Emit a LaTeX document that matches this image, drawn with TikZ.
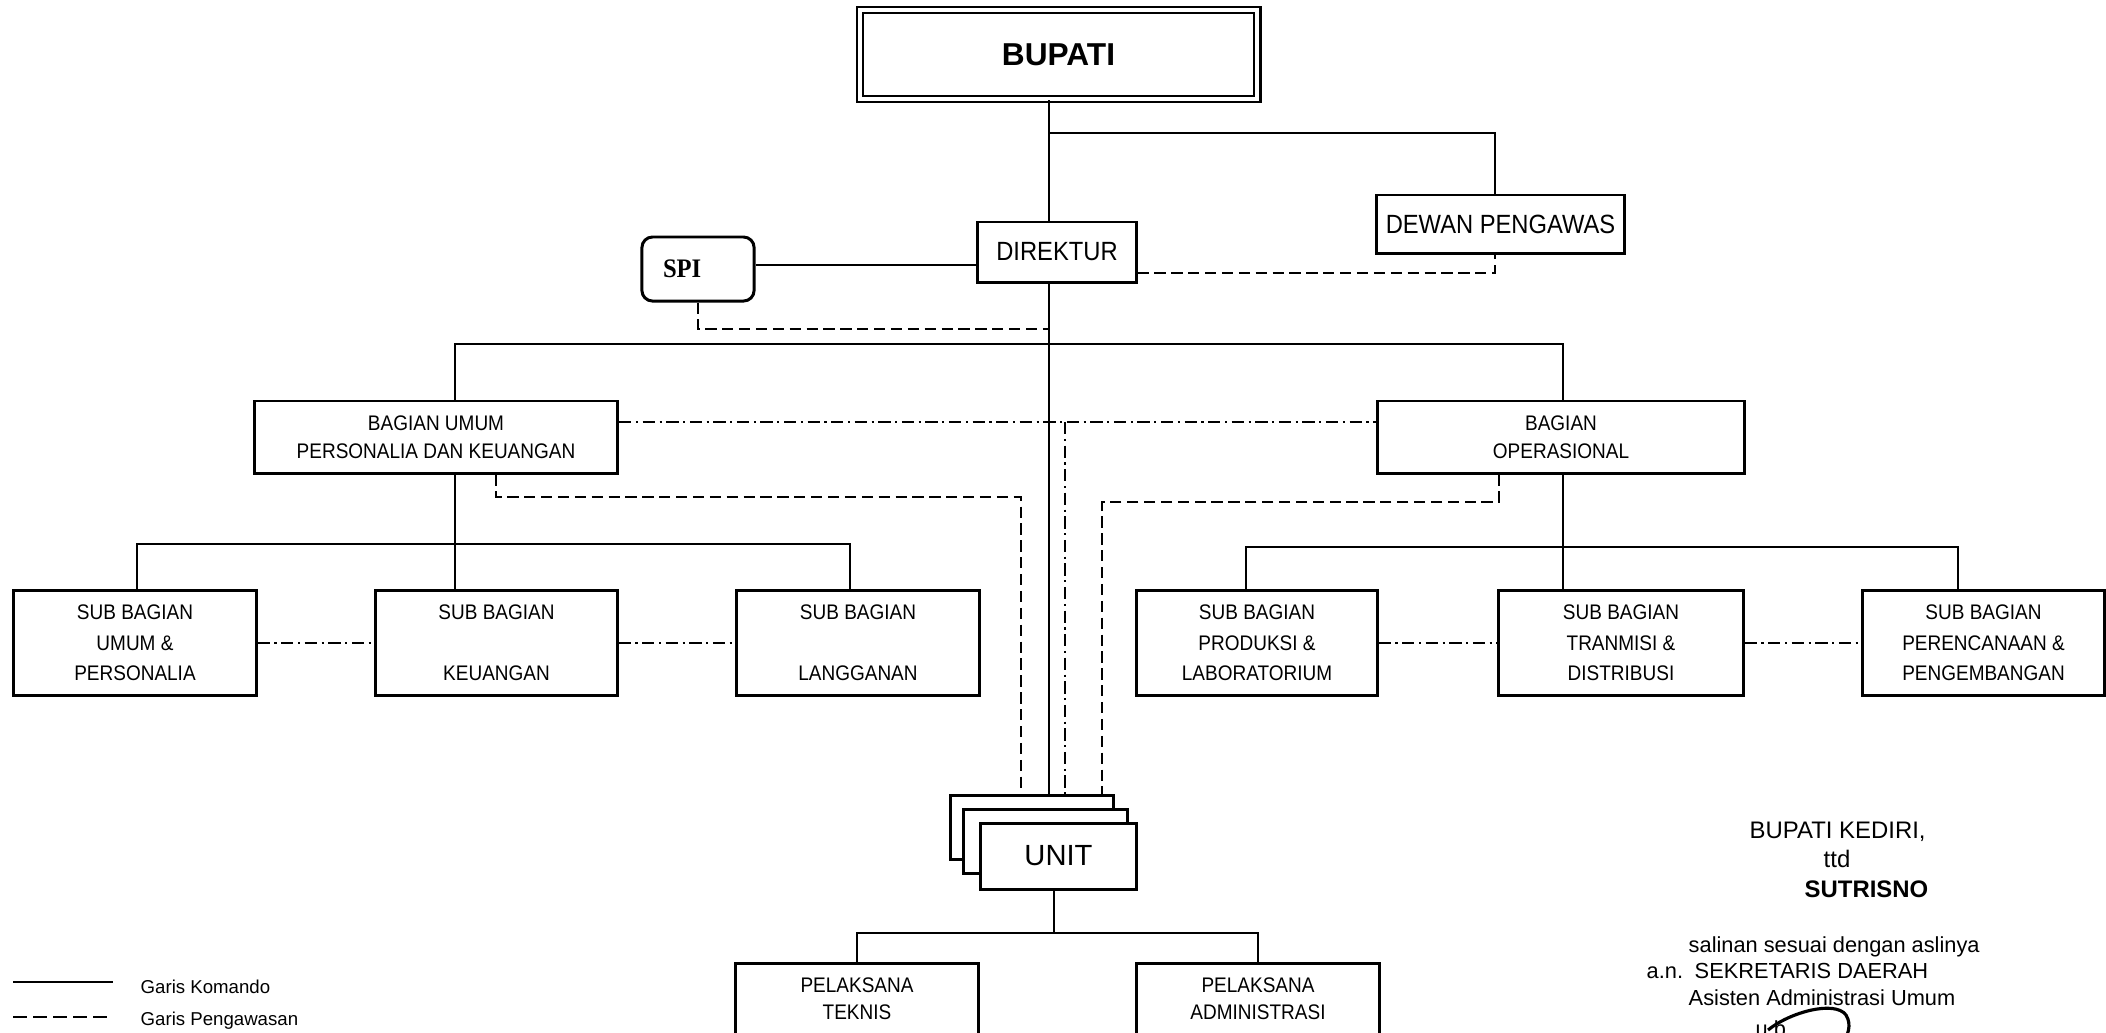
\documentclass[tikz,border=0pt]{standalone}
\usepackage{fontspec}
\setmainfont{Liberation Sans}
\newfontfamily\narrowfont[FakeStretch=0.9]{Liberation Sans}
\newfontfamily\spifont[FakeStretch=0.92]{Liberation Serif}
\usetikzlibrary{positioning}

\tikzset{
  cmd/.style={line width=0.65pt},
  spv/.style={line width=0.65pt, dash pattern=on 3.2pt off 1.6pt},
  crd/.style={line width=0.65pt, dash pattern=on 3.5pt off 1.3pt on 0.6pt off 1.3pt},
  box/.style={draw, line width=0.85pt, inner sep=0pt, align=center, fill=white,
    font=\narrowfont\fontsize{6}{8}\selectfont},
  subbox/.style={box, minimum width=2.42cm, minimum height=1.05cm,
    font=\narrowfont\fontsize{6}{8.7}\selectfont},
  unitbox/.style={box, minimum width=1.62cm, minimum height=0.64cm},
  sigtext/.style={anchor=base west, inner sep=0pt, font=\fontsize{6.2}{7}\selectfont},
  sighead/.style={sigtext, font=\fontsize{6.8}{8}\selectfont},
}

\begin{document}
\begin{tikzpicture}[x=0.01cm, y=-0.01cm]

  % Bounding box of the chart
  \useasboundingbox (0,0) rectangle (2106,1032) ;
  \clip (0,0) rectangle (2106,1032) ;

  %%%%%%%%%%%%%%%%%%%%%%%%%%%%%%%%% Helper coordinates %%%%%%%%%%%%%%%%%%%%%%%%%%%%%%%%%%%%
  \coordinate (spine) at (1049,0) ;
  \coordinate (dwx) at (1495,0) ;
  \coordinate (yB) at (0,133) ;
  \coordinate (ySpiCmd) at (0,265) ;
  \coordinate (ySpv) at (0,273) ;
  \coordinate (ySpiSpv) at (0,329) ;
  \coordinate (yBar) at (0,344) ;
  \coordinate (yCoord) at (0,422) ;
  \coordinate (xLdrop) at (455,0) ;
  \coordinate (xRdrop) at (1563,0) ;
  \coordinate (xBagumSpv) at (496,0) ;
  \coordinate (yBagumSpv) at (0,497) ;
  \coordinate (xUnitL) at (1021,0) ;
  \coordinate (xBagopSpv) at (1499,0) ;
  \coordinate (yBagopSpv) at (0,502) ;
  \coordinate (xUnitR) at (1102,0) ;
  \coordinate (xCoordV) at (1065,0) ;
  \coordinate (yLsub) at (0,544) ;
  \coordinate (yRsub) at (0,547) ;
  \coordinate (xL1) at (137,0) ;
  \coordinate (xL3) at (850,0) ;
  \coordinate (xR1) at (1246,0) ;
  \coordinate (xR3) at (1958,0) ;
  \coordinate (xUnitLine) at (1054,0) ;
  \coordinate (yUnitBar) at (0,933) ;

  %%%%%%%%%%%%%%%%%%%%%%%%%%%%%%%%% Top of the chart %%%%%%%%%%%%%%%%%%%%%%%%%%%%%%%%%%%%
  \node[box, double, double distance=1.2pt, line width=0.65pt, minimum width=3.97cm, minimum height=0.89cm,
    font=\bfseries\fontsize{9}{10}\selectfont] (bupati) at (1058.5,54.5) {BUPATI} ;
  \node[box, minimum width=1.58cm, minimum height=0.60cm, font=\narrowfont\fontsize{7.5}{9}\selectfont]
    (direktur) at (1057,252) {DIREKTUR} ;
  \node[box, minimum width=2.47cm, minimum height=0.58cm, font=\narrowfont\fontsize{7.5}{9}\selectfont]
    (dewan) at (1500.5,224) {DEWAN PENGAWAS} ;
  \node[box, rounded corners=3pt, minimum height=0.64cm, inner xsep=6pt, text width=19.9pt, align=left,
    font=\spifont\bfseries\fontsize{7.6}{8}\selectfont] (spi) at (698,269) {SPI} ;

  %%%%%%%%%%%%%%%%%%%%%%%%%%%%%%%%% Bagian %%%%%%%%%%%%%%%%%%%%%%%%%%%%%%%%%%%%
  \node[box, minimum width=3.63cm, minimum height=0.72cm] (bagum) at (436,437)
    {BAGIAN UMUM\\PERSONALIA DAN KEUANGAN} ;
  \node[box, minimum width=3.66cm, minimum height=0.72cm] (bagop) at (1561,437)
    {BAGIAN\\OPERASIONAL} ;

  %%%%%%%%%%%%%%%%%%%%%%%%%%%%%%%%% Sub bagian %%%%%%%%%%%%%%%%%%%%%%%%%%%%%%%%%%%%
  \node[subbox] (sbumum) at (135,643) {SUB BAGIAN\\UMUM \&\\PERSONALIA} ;
  \node[subbox, minimum width=2.41cm] (sbkeu) at (496.5,643) {SUB BAGIAN\\\mbox{}\\KEUANGAN} ;
  \node[subbox] (sblang) at (858,643) {SUB BAGIAN\\\mbox{}\\LANGGANAN} ;
  \node[subbox, minimum width=2.40cm] (sbprod) at (1257,643) {SUB BAGIAN\\PRODUKSI \&\\LABORATORIUM} ;
  \node[subbox, minimum width=2.44cm] (sbtran) at (1621,643) {SUB BAGIAN\\TRANMISI \&\\DISTRIBUSI} ;
  \node[subbox, minimum width=2.41cm] (sbren) at (1983.5,643) {SUB BAGIAN\\PERENCANAAN \&\\PENGEMBANGAN} ;

  %%%%%%%%%%%%%%%%%%%%%%%%%%%%%%%%% Unit and pelaksana %%%%%%%%%%%%%%%%%%%%%%%%%%%%%%%%%%%%
  \node[unitbox] (unitback) at (1032,827) {} ;
  \node[unitbox, minimum width=1.63cm] (unitmid) at (1045.5,841) {} ;
  \node[unitbox, minimum width=1.55cm, minimum height=0.66cm, font=\fontsize{8.3}{10}\selectfont]
    (unit) at (1058.5,856) {UNIT} ;
  \node[box, minimum width=2.42cm, minimum height=0.71cm, font=\narrowfont\fontsize{6}{7.6}\selectfont]
    (plteknis) at (857,998.5) {PELAKSANA\\TEKNIS} ;
  \node[box, minimum width=2.42cm, minimum height=0.71cm, font=\narrowfont\fontsize{6}{7.6}\selectfont]
    (pladmin) at (1258,998.5) {PELAKSANA\\ADMINISTRASI} ;

  %%%%%%%%%%%%%%%%%%%%%%%%%%%%%%%%% Garis komando %%%%%%%%%%%%%%%%%%%%%%%%%%%%%%%%%%%%
  \draw[cmd] (bupati.south -| spine) -- (direktur.north -| spine) ;
  \draw[cmd] (spine |- yB) -| (dewan.north -| dwx) ;
  \draw[cmd] (spi.east |- ySpiCmd) -- (direktur.west |- ySpiCmd) ;
  \draw[cmd] (direktur.south -| spine) -- (unitback.north -| spine) ;
  \draw[cmd] (bagum.north -| xLdrop) |- (xRdrop |- yBar) -- (bagop.north -| xRdrop) ;
  \draw[cmd] (bagum.south -| xLdrop) -- (sbkeu.north -| xLdrop) ;
  \draw[cmd] (sbumum.north -| xL1) |- (xL3 |- yLsub) -- (sblang.north -| xL3) ;
  \draw[cmd] (bagop.south -| xRdrop) -- (sbtran.north -| xRdrop) ;
  \draw[cmd] (sbprod.north -| xR1) |- (xR3 |- yRsub) -- (sbren.north -| xR3) ;
  \draw[cmd] (unit.south -| xUnitLine) -- (xUnitLine |- yUnitBar) ;
  \draw[cmd] (plteknis.north) |- (pladmin.north |- yUnitBar) -- (pladmin.north) ;

  %%%%%%%%%%%%%%%%%%%%%%%%%%%%%%%%% Garis pengawasan %%%%%%%%%%%%%%%%%%%%%%%%%%%%%%%%%%%%
  \draw[spv] (direktur.east |- ySpv) -| (dewan.south -| dwx) ;
  \draw[spv] (spi.south) |- (spine |- ySpiSpv) ;
  \draw[spv] (bagum.south -| xBagumSpv) |- (xUnitL |- yBagumSpv) -- (unitback.north -| xUnitL) ;
  \draw[spv] (bagop.south -| xBagopSpv) |- (xUnitR |- yBagopSpv) -- (unitback.north -| xUnitR) ;

  %%%%%%%%%%%%%%%%%%%%%%%%%%%%%%%%% Garis koordinasi %%%%%%%%%%%%%%%%%%%%%%%%%%%%%%%%%%%%
  \draw[crd] (bagum.east |- yCoord) -- (bagop.west |- yCoord) ;
  \draw[crd] (xCoordV |- yCoord) -- (unitback.north -| xCoordV) ;
  \draw[crd] (sbumum.east) -- (sbkeu.west) ;
  \draw[crd] (sbkeu.east) -- (sblang.west) ;
  \draw[crd] (sbprod.east) -- (sbtran.west) ;
  \draw[crd] (sbtran.east) -- (sbren.west) ;

  %%%%%%%%%%%%%%%%%%%%%%%%%%%%%%%%% Legend %%%%%%%%%%%%%%%%%%%%%%%%%%%%%%%%%%%%
  \node[sigtext, font=\fontsize{5.3}{6}\selectfont] (lgkom) at (140,993) {Garis Komando} ;
  \node[sigtext, font=\fontsize{5.3}{6}\selectfont] (lgspv) at (140,1025) {Garis Pengawasan} ;
  \coordinate (lgkomA) at (13,982) ;
  \coordinate (lgkomB) at (113,982) ;
  \coordinate (lgspvA) at (13,1017) ;
  \coordinate (lgspvB) at (107,1017) ;
  \draw[cmd] (lgkomA) -- (lgkomB) ;
  \draw[line width=0.65pt, dash pattern=on 4pt off 1.7pt] (lgspvA) -- (lgspvB) ;

  %%%%%%%%%%%%%%%%%%%%%%%%%%%%%%%%% Signature %%%%%%%%%%%%%%%%%%%%%%%%%%%%%%%%%%%%
  \node[sighead] (sigbup) at (1749,838) {BUPATI KEDIRI,} ;
  \node[sighead] (sigttd) at (1823,867) {ttd} ;
  \node[sighead, font=\bfseries\fontsize{6.8}{8}\selectfont] (signame) at (1804,897) {SUTRISNO} ;
  \node[sigtext] (sigcopy) at (1688,952) {salinan sesuai dengan aslinya} ;
  \node[sigtext] (sigan) at (1646,978) {a.n.} ;
  \node[sigtext] (sigsek) at (1694,978) {SEKRETARIS DAERAH} ;
  \node[sigtext] (sigasst) at (1688,1005) {Asisten Administrasi Umum} ;
  \node[sigtext] (sigub) at (1755,1036) {u.b.} ;
  \draw[line width=0.9pt] (1768,1030) .. controls (1790,1012) and (1835,1000) .. (1846,1015)
    .. controls (1852,1025) and (1848,1035) .. (1842,1045) ;

\end{tikzpicture}
\end{document}
